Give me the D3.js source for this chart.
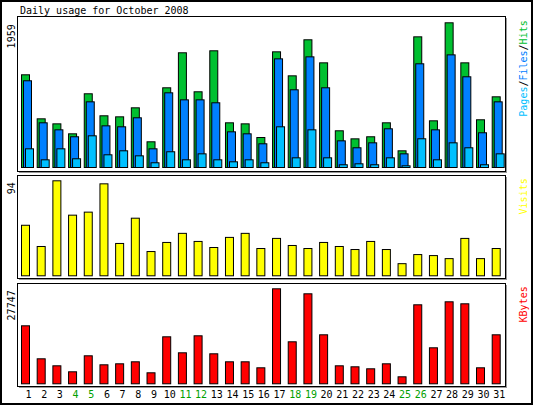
<html>
<head>
<meta charset="UTF-8">
<style>
  body { margin: 0; background: #fff; }
  text { font-family: "DejaVu Sans Mono", monospace; font-size: 10px; }
</style>
</head>
<body>
<svg id="chart" width="533" height="405"></svg>
<script src="https://cdnjs.cloudflare.com/ajax/libs/d3/7.8.4/d3.min.js"></script>
<script>
const days = d3.range(1, 32);
const weekend = [4, 5, 11, 12, 18, 19, 25, 26];
const hits = [1255, 659, 591, 456, 998, 700, 686, 808, 348, 1079, 1553, 1025, 1580, 605, 591, 406,
  1566, 1241, 1729, 1417, 497, 388, 416, 605, 226, 1769, 632, 1959, 1417, 646, 957];
const files = [1174, 605, 510, 416, 889, 564, 551, 673, 253, 1011, 916, 916, 876, 483, 456, 321,
  1471, 1052, 1498, 1079, 361, 267, 334, 524, 185, 1404, 510, 1525, 1228, 470, 889];
const pages = [253, 104, 253, 118, 429, 172, 226, 158, 64, 213, 104, 185, 104, 77, 104, 64,
  551, 131, 510, 131, 37, 50, 37, 131, 23, 389, 104, 334, 267, 37, 185];
const visits = [50, 29, 94, 60, 63, 91, 32, 57, 24, 33, 42, 34, 28, 38, 42, 27,
  37, 30, 27, 33, 29, 26, 34, 26, 12, 21, 20, 17, 37, 17, 27];
const kbytes = [16940, 7302, 5257, 3505, 8178, 5549, 5841, 6426, 3213, 13727, 9054, 14020, 8762, 6426, 6426, 4673,
  27747, 12267, 26287, 14312, 5257, 4965, 4381, 5841, 2044, 23074, 10515, 23950, 23366, 4673, 14312];

const svg = d3.select("#chart");
const x = d3.scaleLinear().domain([1, 31]).range([21, 491.7]);
const barW = 8;

// outer frame
svg.append("rect").attr("x", 1).attr("y", 1).attr("width", 531).attr("height", 403)
  .attr("fill", "#fff").attr("stroke", "#000").attr("stroke-width", 2);
svg.append("text").attr("x", 20).attr("y", 14).text("Daily usage for October 2008");

function panel(top, bottom, base, maxTop, maxVal, series, label, labelParts) {
  svg.append("rect").attr("x", 19).attr("y", top + 1).attr("width", 488).attr("height", bottom - top)
    .attr("fill", "#999");
  svg.append("rect").attr("x", 17.5).attr("y", top - 0.5).attr("width", 488).attr("height", bottom - top)
    .attr("fill", "#fff").attr("stroke", "#000");
  const y = d3.scaleLinear().domain([0, maxVal]).range([base, maxTop]);
  series.forEach(s => {
    svg.append("g").selectAll("rect").data(s.values).enter().append("rect")
      .attr("x", (d, i) => x(days[i]) + s.off + 0.5)
      .attr("y", d => y(d) + 0.5)
      .attr("width", barW)
      .attr("height", d => base - y(d))
      .attr("fill", s.color).attr("stroke", "#000");
  });
  svg.append("text").attr("transform", `translate(15,${maxTop + 2}) rotate(-90)`)
    .attr("text-anchor", "end").text(label);
  const t = svg.append("text").attr("transform", `translate(517,${maxTop - 2}) rotate(90)`)
    .attr("text-anchor", "start").attr("font-weight", "bold");
  // right side label reads bottom to top: draw parts rotated -90 anchored at bottom
  t.remove();
  const r = svg.append("text").attr("transform", `translate(527,${maxTop - 2}) rotate(-90)`)
    .attr("text-anchor", "end");
  labelParts.forEach(p => r.append("tspan").attr("fill", p.color).text(p.text));
}

panel(17, 172, 167, 22.3, 1959, [
  { values: hits, color: "#00c030", off: 0 },
  { values: files, color: "#0080ff", off: 2 },
  { values: pages, color: "#00c0ff", off: 4 }
], "1959", [
  { text: "Pages", color: "#00c0ff" }, { text: "/", color: "#000" },
  { text: "Files", color: "#0080ff" }, { text: "/", color: "#000" },
  { text: "Hits", color: "#00c030" }
]);

panel(176, 279, 275.3, 180.3, 94, [
  { values: visits, color: "#ffff00", off: 0 }
], "94", [{ text: "Visits", color: "#ffff00" }]);

panel(284, 387, 383.3, 288.3, 27747, [
  { values: kbytes, color: "#ff0000", off: 0 }
], "27747", [{ text: "KBytes", color: "#ff0000" }]);

svg.append("g").selectAll("text").data(days).enter().append("text")
  .attr("x", d => x(d) + 7.5).attr("y", 398).attr("text-anchor", "middle")
  .attr("fill", d => weekend.includes(d) ? "#00a000" : "#000")
  .text(d => d);
</script>
</body>
</html>
